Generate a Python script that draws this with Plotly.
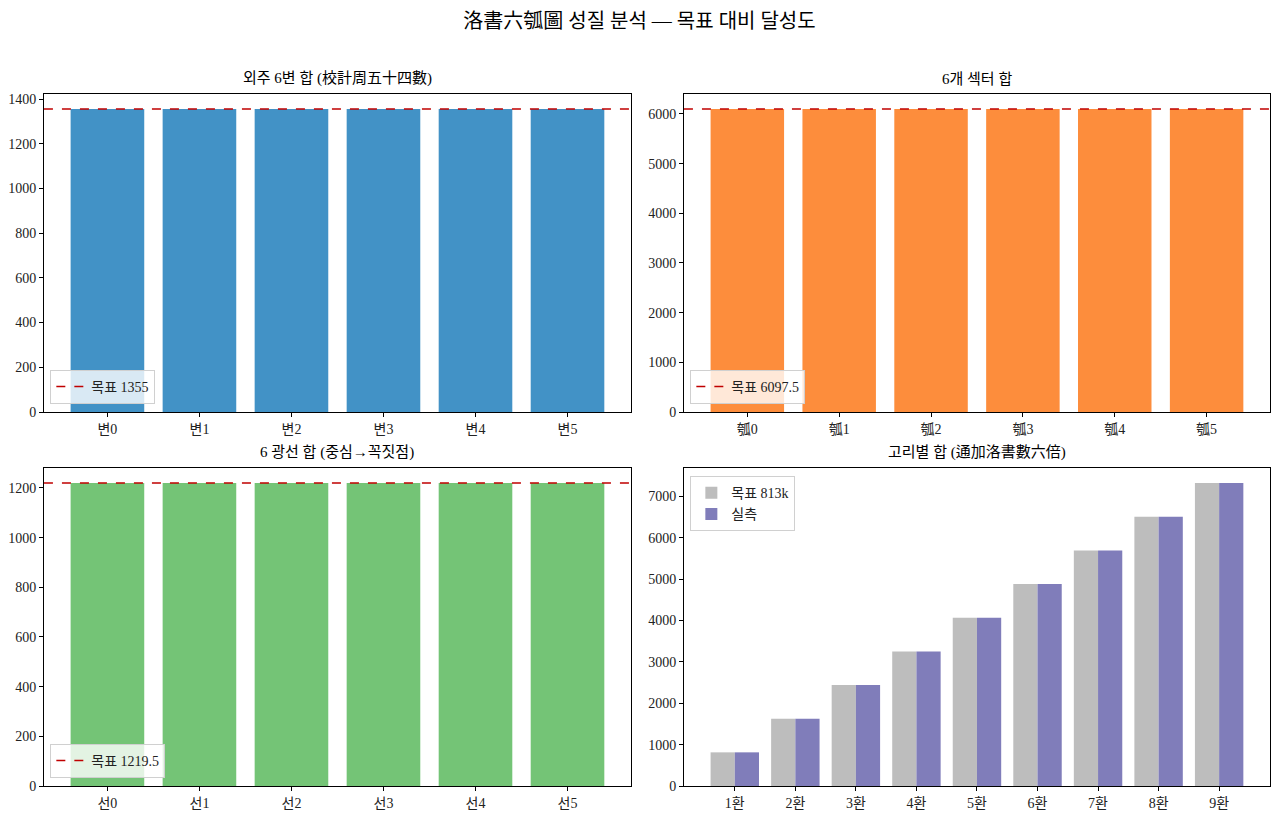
import plotly.graph_objects as go

# data
edge_labels = ["변0", "변1", "변2", "변3", "변4", "변5"]
edge_sums = [1355, 1355, 1355, 1355, 1355, 1355]
edge_target = 1355

sector_labels = ["瓠0", "瓠1", "瓠2", "瓠3", "瓠4", "瓠5"]
sector_sums = [6097.5, 6097.5, 6097.5, 6097.5, 6097.5, 6097.5]
sector_target = 6097.5

ray_labels = ["선0", "선1", "선2", "선3", "선4", "선5"]
ray_sums = [1219.5, 1219.5, 1219.5, 1219.5, 1219.5, 1219.5]
ray_target = 1219.5

ring_labels = ["1환", "2환", "3환", "4환", "5환", "6환", "7환", "8환", "9환"]
ring_target = [813, 1626, 2439, 3252, 4065, 4878, 5691, 6504, 7317]
ring_actual = [813, 1626, 2439, 3252, 4065, 4878, 5691, 6504, 7317]

FONT = "Liberation Serif, Noto Sans CJK KR, sans-serif"
RED = "#c00000"

# page body adds an 8px offset, domains compensate for it
xdom_l = [0.0281, 0.4871]
xdom_r = [0.5285, 0.9867]
ydom_t = [0.5061, 0.8949]
ydom_b = [0.0489, 0.4377]

fig = go.Figure()

panels = [
    ("", "", edge_labels, edge_sums, edge_target, "#4292c6", "legend", "목표 1355"),
    ("2", "2", sector_labels, sector_sums, sector_target, "#fd8d3c", "legend2", "목표 6097.5"),
    ("3", "3", ray_labels, ray_sums, ray_target, "#74c476", "legend3", "목표 1219.5"),
]

for xs, ys, labels, vals, target, color, leg, name in panels:
    fig.add_trace(go.Bar(x=labels, y=vals, marker_color=color, marker_line_width=0,
                         width=0.8, showlegend=False, xaxis="x" + xs, yaxis="y" + ys))
    fig.add_trace(go.Scatter(x=[None], y=[None], mode="lines", name=name,
                             line=dict(color=RED, dash="dash", width=1.5),
                             legend=leg, xaxis="x" + xs, yaxis="y" + ys))
    fig.add_shape(type="line", xref="x" + xs + " domain", yref="y" + ys,
                  x0=0, x1=1, y0=target, y1=target,
                  line=dict(color=RED, dash="dash", width=1.5))

fig.add_trace(go.Bar(x=ring_labels, y=ring_target, name="목표 813k", marker_color="#bdbdbd",
                     marker_line_width=0, legend="legend4", xaxis="x4", yaxis="y4"))
fig.add_trace(go.Bar(x=ring_labels, y=ring_actual, name="실측", marker_color="#807dba",
                     marker_line_width=0, legend="legend4", xaxis="x4", yaxis="y4"))

axis_common = dict(showgrid=False, zeroline=False, showline=True, linecolor="black",
                   linewidth=1, mirror=True, ticks="outside", ticklen=4, tickcolor="black",
                   automargin=False, tickfont=dict(size=14, color="#222"))

fig.update_layout(
    xaxis=dict(domain=xdom_l, anchor="y", range=[-0.69, 5.69], **axis_common),
    yaxis=dict(domain=ydom_t, anchor="x", range=[0, edge_target * 1.05], dtick=200, **axis_common),
    xaxis2=dict(domain=xdom_r, anchor="y2", range=[-0.69, 5.69], **axis_common),
    yaxis2=dict(domain=ydom_t, anchor="x2", range=[0, sector_target * 1.05], dtick=1000, **axis_common),
    xaxis3=dict(domain=xdom_l, anchor="y3", range=[-0.69, 5.69], **axis_common),
    yaxis3=dict(domain=ydom_b, anchor="x3", range=[0, ray_target * 1.05], dtick=200, **axis_common),
    xaxis4=dict(domain=xdom_r, anchor="y4", range=[-0.84, 8.84], **axis_common),
    yaxis4=dict(domain=ydom_b, anchor="x4", range=[0, max(ring_actual) * 1.05], dtick=1000, **axis_common),
    barmode="group", bargap=0.2, bargroupgap=0,
    width=1279, height=818,
    margin=dict(l=0, r=0, t=0, b=0),
    paper_bgcolor="white", plot_bgcolor="white",
    font=dict(family=FONT, size=14, color="#222"),
    title=dict(text="洛書六瓠圖 성질 분석 — 목표 대비 달성도", x=0.4937, xanchor="center",
               y=0.984, yanchor="middle", font=dict(size=20, color="black")),
)

legend_style = dict(bgcolor="rgba(255,255,255,0.8)", bordercolor="#d0d0d0", borderwidth=1,
                    font=dict(size=14, color="#222"), xanchor="left", tracegroupgap=0)
fig.update_layout(
    legend=dict(x=xdom_l[0] + 0.005, y=ydom_t[0] + 0.01, yanchor="bottom", **legend_style),
    legend2=dict(x=xdom_r[0] + 0.005, y=ydom_t[0] + 0.01, yanchor="bottom", **legend_style),
    legend3=dict(x=xdom_l[0] + 0.005, y=ydom_b[0] + 0.01, yanchor="bottom", **legend_style),
    legend4=dict(x=xdom_r[0] + 0.005, y=ydom_b[1] - 0.01, yanchor="top", **legend_style),
)

titles = [
    ("외주 6변 합 (校計周五十四數)", xdom_l, ydom_t),
    ("6개 섹터 합", xdom_r, ydom_t),
    ("6 광선 합 (중심→꼭짓점)", xdom_l, ydom_b),
    ("고리별 합 (通加洛書數六倍)", xdom_r, ydom_b),
]
for text, xd, yd in titles:
    fig.add_annotation(text=text, xref="paper", yref="paper", x=(xd[0] + xd[1]) / 2,
                       y=yd[1] + 0.006, xanchor="center", yanchor="bottom", showarrow=False,
                       font=dict(size=15, color="black"))

fig.write_html("out.html")
